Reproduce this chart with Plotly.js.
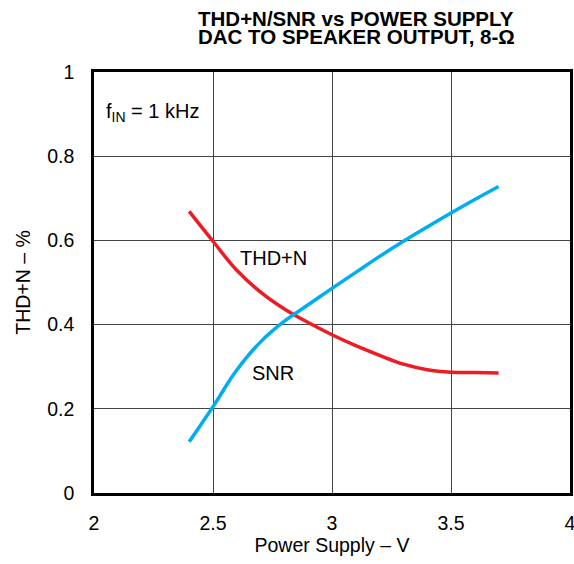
<!DOCTYPE html>
<html>
<head>
<meta charset="utf-8">
<script src="https://cdn.plot.ly/plotly-3.0.1.min.js"></script>
<style>html,body{margin:0;padding:0;background:#fff;}#chart{width:574px;height:564px;}</style>
</head>
<body>
<div id="chart"></div>
<script>
const supplyV = [2.4, 2.5, 2.6, 2.7, 2.8, 2.9, 3.0, 3.1, 3.2, 3.3, 3.4, 3.5, 3.6, 3.7];
const thdY = [0.669, 0.598, 0.529, 0.477, 0.437, 0.405, 0.376, 0.350, 0.327, 0.306, 0.293, 0.287, 0.286, 0.285];
const snrY = [0.122, 0.205, 0.292, 0.359, 0.408, 0.447, 0.486, 0.524, 0.562, 0.598, 0.632, 0.665, 0.697, 0.728];
const xTicks = [2, 2.5, 3, 3.5, 4];
const yTicks = [0, 0.2, 0.4, 0.6, 0.8, 1];
const titleLines = ['THD+N/SNR vs POWER SUPPLY', 'DAC TO SPEAKER OUTPUT, 8-Ω'];

const font = '"Liberation Sans", Arial, sans-serif';
const traces = [
  {x: supplyV, y: thdY, mode: 'lines', line: {color: '#ec1c24', width: 3.5, shape: 'spline', smoothing: 1.2}, name: 'THD+N'},
  {x: supplyV, y: snrY, mode: 'lines', line: {color: '#00aeef', width: 3.5, shape: 'spline', smoothing: 1.2}, name: 'SNR'}
];
const W = 574, H = 564, M = {l: 94, r: 4, t: 72, b: 71};
const pw = W - M.l - M.r, ph = H - M.t - M.b;
const layout = {
  width: W, height: H,
  margin: M,
  paper_bgcolor: '#fff', plot_bgcolor: '#fff',
  showlegend: false,
  font: {family: font, color: '#000', size: 19.5},
  xaxis: {range: [2, 4], tickvals: xTicks, ticktext: xTicks.map(String), showgrid: true, gridcolor: '#444', gridwidth: 1,
    showline: true, linecolor: '#000', linewidth: 2.8, mirror: true, ticks: '', zeroline: false,
    ticklabelstandoff: 11, ticklabeloverflow: 'allow', tickfont: {size: 19.5},
    title: {text: 'Power Supply – V', font: {size: 19.5}, standoff: 6}},
  yaxis: {range: [0, 1], tickvals: yTicks, ticktext: yTicks.map(String), showgrid: true, gridcolor: '#444', gridwidth: 1,
    showline: true, linecolor: '#000', linewidth: 2.8, mirror: true, ticks: '', zeroline: false,
    ticklabelstandoff: 13, tickfont: {size: 19.5},
    title: {text: 'THD+N – %', font: {size: 19.5}, standoff: 12}},
  annotations: [
    {x: (356 - M.l) / pw, y: (H - M.b - 18.3) / ph, xref: 'paper', yref: 'paper', text: '<b>' + titleLines[0] + '</b>', showarrow: false, xanchor: 'center', yanchor: 'middle', font: {size: 20.5}},
    {x: (356 - M.l) / pw, y: (H - M.b - 37) / ph, xref: 'paper', yref: 'paper', text: '<b>' + titleLines[1] + '</b>', showarrow: false, xanchor: 'center', yanchor: 'middle', font: {size: 20.5}},
    {x: 2.044, y: 0.904, xref: 'x', yref: 'y', text: 'f<sub>IN</sub> = 1 kHz', showarrow: false, xanchor: 'left', yanchor: 'middle', font: {size: 20}},
    {x: 2.754, y: 0.559, xref: 'x', yref: 'y', text: 'THD+N', showarrow: false, xanchor: 'center', yanchor: 'middle', font: {size: 20}},
    {x: 2.754, y: 0.285, xref: 'x', yref: 'y', text: 'SNR', showarrow: false, xanchor: 'center', yanchor: 'middle', font: {size: 20}}
  ]
};
Plotly.newPlot('chart', traces, layout, {displayModeBar: false, staticPlot: true});
</script>
</body>
</html>
